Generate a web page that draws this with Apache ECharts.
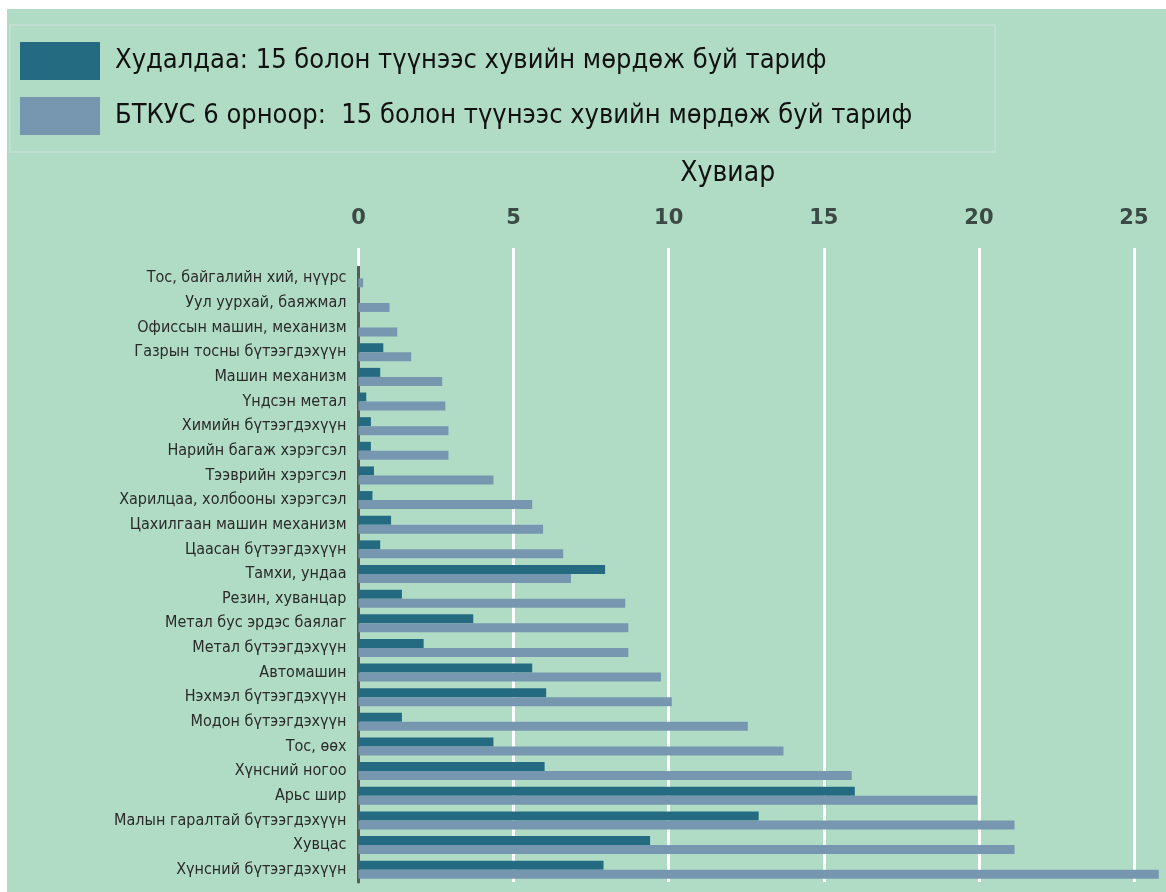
<!DOCTYPE html>
<html>
<head>
<meta charset="utf-8">
<title>Тариф</title>
<script src="https://cdn.jsdelivr.net/npm/echarts@6/dist/echarts.min.js"></script>
<style>
  html, body { margin: 0; padding: 0; background: #ffffff; overflow: hidden; }
  #main { position: absolute; left: 7px; top: 9px; width: 1159px; height: 883px; background: #b0dcc5; }
</style>
</head>
<body>
<div id="main"></div>
<script>
// ангилал (дээрээс доош)
const categories = [
  'Тос, байгалийн хий, нүүрс',
  'Уул уурхай, баяжмал',
  'Офиссын машин, механизм',
  'Газрын тосны бүтээгдэхүүн',
  'Машин механизм',
  'Үндсэн метал',
  'Химийн бүтээгдэхүүн',
  'Нарийн багаж хэрэгсэл',
  'Тээврийн хэрэгсэл',
  'Харилцаа, холбооны хэрэгсэл',
  'Цахилгаан машин механизм',
  'Цаасан бүтээгдэхүүн',
  'Тамхи, ундаа',
  'Резин, хуванцар',
  'Метал бус эрдэс баялаг',
  'Метал бүтээгдэхүүн',
  'Автомашин',
  'Нэхмэл бүтээгдэхүүн',
  'Модон бүтээгдэхүүн',
  'Тос, өөх',
  'Хүнсний ногоо',
  'Арьс шир',
  'Малын гаралтай бүтээгдэхүүн',
  'Хувцас',
  'Хүнсний бүтээгдэхүүн'
];

const seriesNames = [
  'Худалдаа: 15 болон түүнээс хувийн мөрдөж буй тариф',
  'БТКУС 6 орноор:  15 болон түүнээс хувийн мөрдөж буй тариф'
];

// Худалдаа
const tradeValues = [
  0, 0, 0, 0.8, 0.7, 0.25, 0.4, 0.4, 0.5, 0.45,
  1.05, 0.7, 7.95, 1.4, 3.7, 2.1, 5.6, 6.05, 1.4, 4.35,
  6.0, 16.0, 12.9, 9.4, 7.9
];

// БТКУС 6 орноор
const btkusValues = [
  0.15, 1.0, 1.25, 1.7, 2.7, 2.8, 2.9, 2.9, 4.35, 5.6,
  5.95, 6.6, 6.85, 8.6, 8.7, 8.7, 9.75, 10.1, 12.55, 13.7,
  15.9, 19.95, 21.15, 21.15, 25.8
];

const narrow = "'Liberation Sans Narrow', 'DejaVu Sans Condensed', 'Roboto Condensed', sans-serif";

const chart = echarts.init(document.getElementById('main'));

chart.setOption({
  backgroundColor: 'transparent',
  animation: false,
  color: ['#246b82', '#7797b0'],
  legend: {
    orient: 'vertical',
    left: 3,
    top: 16,
    padding: [17, 83, 17, 10],
    borderColor: '#c2ddd2',
    borderWidth: 2,
    itemWidth: 80,
    itemHeight: 38,
    itemGap: 17,
    icon: 'rect',
    textStyle: {
      fontFamily: narrow,
      fontSize: 27,
      color: '#111',
      padding: [0, 0, 0, 10]
    },
    data: seriesNames
  },
  grid: {
    left: 351.5,
    right: 1,
    top: 257,
    bottom: 10,
    containLabel: false
  },
  xAxis: {
    type: 'value',
    position: 'top',
    min: 0,
    max: 26,
    interval: 5,
    name: 'Хувиар',
    nameLocation: 'middle',
    nameGap: 78,
    nameTextStyle: {
      fontFamily: narrow,
      fontSize: 28,
      color: '#111',
      padding: [0, 68, 0, 0]
    },
    axisLine: { show: false },
    axisTick: {
      show: true,
      length: 18,
      lineStyle: { color: '#ffffff', width: 3 }
    },
    axisLabel: {
      margin: 37,
      fontFamily: "'DejaVu Sans', sans-serif",
      fontWeight: 'bold',
      fontSize: 21,
      color: '#3c4a45',
      showMaxLabel: false
    },
    splitLine: {
      show: true,
      showMaxLine: false,
      lineStyle: { color: '#ffffff', width: 3 }
    }
  },
  yAxis: {
    type: 'category',
    inverse: true,
    data: categories,
    axisLine: { show: true, lineStyle: { color: '#5a5a5a', width: 3 } },
    axisTick: { show: false },
    axisLabel: {
      margin: 12,
      fontFamily: narrow,
      fontSize: 16,
      color: '#2a2a2a'
    },
    splitLine: { show: false }
  },
  series: [
    {
      name: seriesNames[0],
      type: 'bar',
      data: tradeValues,
      barWidth: 9,
      barGap: '0%',
      z: 3
    },
    {
      name: seriesNames[1],
      type: 'bar',
      data: btkusValues,
      barWidth: 9,
      barGap: '0%',
      z: 3
    }
  ]
});
</script>
</body>
</html>
